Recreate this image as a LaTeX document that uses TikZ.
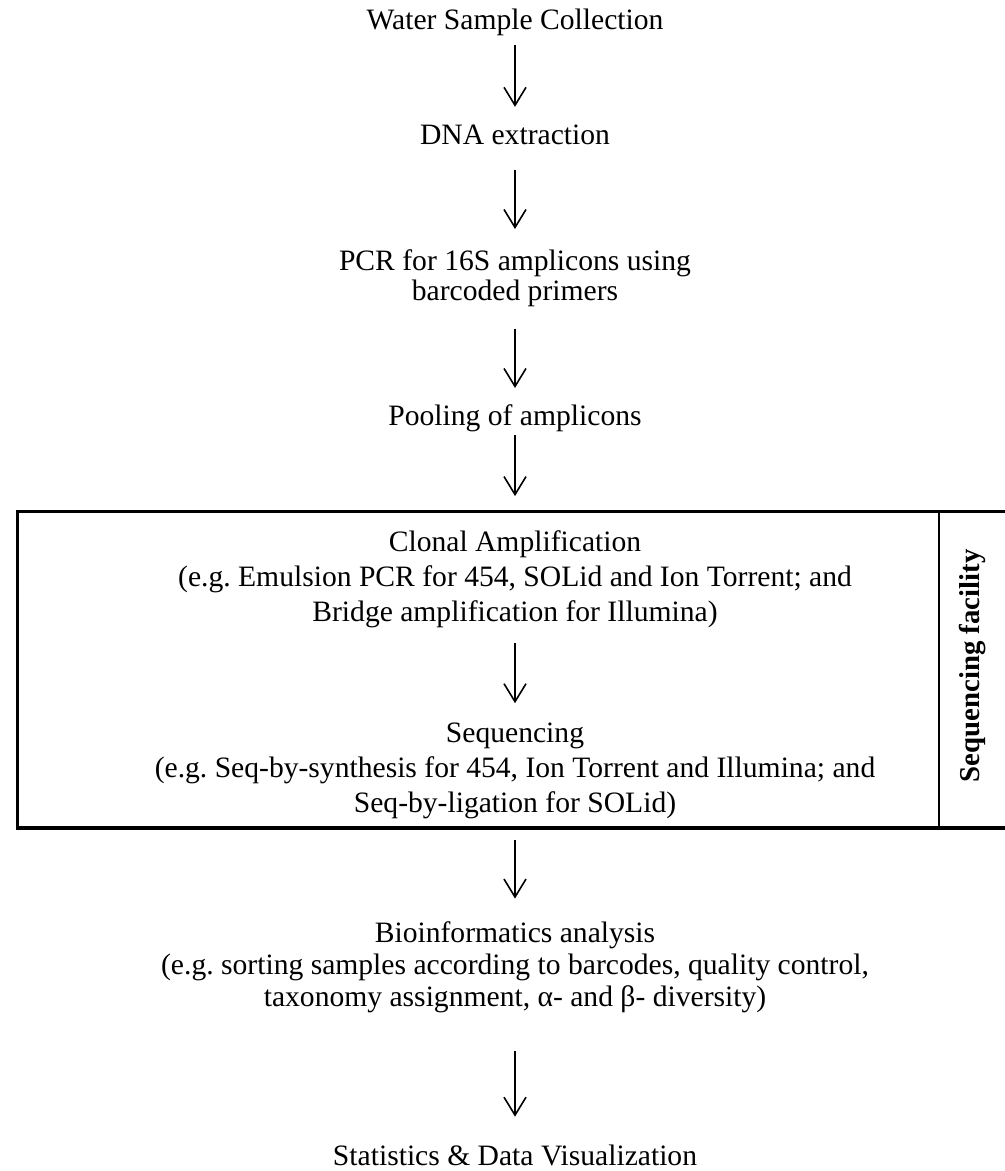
\documentclass[tikz,border=0pt]{standalone}
\usepackage{fontspec}
\setmainfont{Liberation Serif}
\usetikzlibrary{arrows.meta}
\frenchspacing

\tikzset{
  stage/.style={align=center, inner sep=0pt, font=\fontsize{14.8}{15}\selectfont},
  boxed/.style={stage, font=\fontsize{14.8}{17.5}\selectfont},
  flow/.style={-{Straight Barb[length=9pt,width=11pt,line width=0.8pt]}, line width=0.8pt}
}

\begin{document}
\begin{tikzpicture}[x=0.5pt, y=-0.5pt]
    \useasboundingbox (0,0) rectangle (1005,1171);
    \node (water) [stage] at (515,22) {Water Sample Collection};
    \node (dna)   [stage] at (515,135) {DNA extraction};
    \node (pcr)   [stage] at (515,278) {PCR for 16S amplicons using\\barcoded primers};
    \node (pool)  [stage] at (515,418) {Pooling of amplicons};
    \node (clonal)[boxed] at (515,579) {Clonal Amplification\\(e.g. Emulsion PCR for 454, SOLid and Ion Torrent; and\\Bridge amplification for Illumina)};
    \node (seq)   [boxed] at (515,771) {Sequencing\\(e.g. Seq-by-synthesis for 454, Ion Torrent and Illumina; and\\Seq-by-ligation for SOLid)};
    \node (bio)   [stage, font=\fontsize{14.8}{16}\selectfont] at (515,967) {Bioinformatics analysis\\(e.g. sorting samples according to barcodes, quality control,\\taxonomy assignment, α- and β- diversity)};
    \node (stats) [stage] at (515,1155) {Statistics \& Data Visualization};
    % sequencing facility frame, open at the page edge
    \node (frame) [inner sep=0pt, minimum width=496pt, minimum height=158pt] at (514,669.5) {};
    \draw[line width=1.6pt] (frame.north east) -- (frame.north west) -- (frame.south west) -- (frame.south east);
    \draw[line width=1pt] (939,511) -- (939,828);
    \node (facility) [stage, font=\fontsize{14.4}{17}\selectfont\bfseries, rotate=90] at (973,666) {Sequencing facility};
    \draw[flow, shorten <=4.75pt, shorten >=8.9pt] (water) -- (dna);
    \draw[flow, shorten <=12.3pt, shorten >=10pt] (dna) -- (pcr);
    \draw[flow, shorten <=11pt, shorten >=8pt] (pcr) -- (pool);
    \draw[flow, shorten <=1.5pt, shorten >=7.5pt] (pool) -- (pool |- frame.north);
    \draw[flow, shorten <=7.3pt, shorten >=9.7pt] (clonal) -- (seq);
    \draw[flow, shorten <=6pt, shorten >=11.2pt] (frame.south -| bio) -- (bio);
    \draw[flow, shorten <=18.8pt, shorten >=13.7pt] (bio) -- (stats);
\end{tikzpicture}
\end{document}
